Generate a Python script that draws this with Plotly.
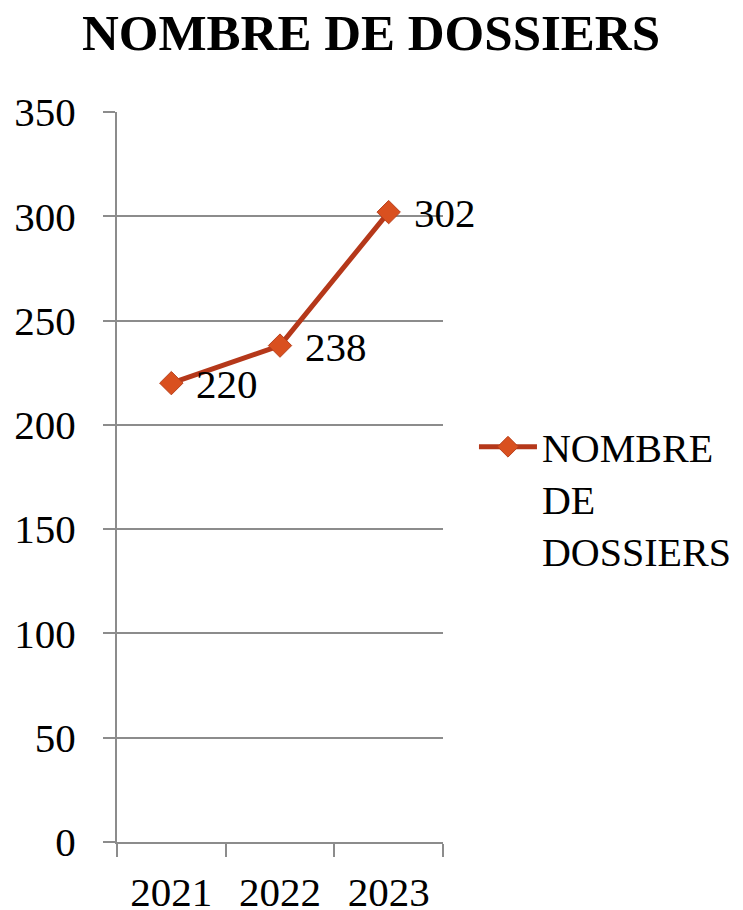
import plotly.graph_objects as go

years = ["2021", "2022", "2023"]
dossiers = [220, 238, 302]
y_ticks = [0, 50, 100, 150, 200, 250, 300, 350]

font_family = "Liberation Serif, Times New Roman, serif"
grid_col = "#8c8c8c"

fig = go.Figure()
fig.add_trace(go.Scatter(
    x=years, y=dossiers,
    mode="lines+markers",
    name="NOMBRE<br>DE<br>DOSSIERS",
    line=dict(color="#B5381A", width=5),
    marker=dict(symbol="diamond", size=18, color="#D9501F",
                line=dict(color="#B8401C", width=1)),
    cliponaxis=False,
))

for i, yv in enumerate(dossiers):
    fig.add_annotation(x=i, y=yv, xref="x", yref="y", text=str(yv), showarrow=False,
                       xanchor="left", yanchor="middle", xshift=23, yshift=-1,
                       font=dict(family=font_family, size=41, color="black"))

fig.update_layout(
    width=770, height=902,
    margin=dict(l=109, r=335, t=104, b=68, autoexpand=False),
    paper_bgcolor="white", plot_bgcolor="white",
    title=dict(text="<b>NOMBRE DE DOSSIERS</b>", x=363 / 770, xanchor="center",
               y=1 - 24 / 902, yanchor="middle",
               font=dict(family=font_family, size=51, color="black")),
    font=dict(family=font_family, size=41, color="black"),
    showlegend=True,
    legend=dict(x=1.095, xanchor="left", y=0.586, yanchor="top",
                valign="top", font=dict(family=font_family, size=40, color="black"),
                itemwidth=58, bgcolor="rgba(0,0,0,0)"),
    xaxis=dict(type="category", range=[-0.5, 2.5], showgrid=False,
               automargin=False,
               showline=True, linecolor=grid_col, linewidth=2,
               ticks="outside", tickson="boundaries", ticklen=13,
               tickcolor=grid_col, tickwidth=2, ticklabelstandoff=13,
               tickfont=dict(family=font_family, size=41, color="black")),
    yaxis=dict(range=[0, 350], tickvals=y_ticks, showgrid=True,
               automargin=False,
               gridcolor=grid_col, gridwidth=1.5, zeroline=False,
               showline=True, linecolor=grid_col, linewidth=2,
               ticks="outside", ticklen=12, tickcolor=grid_col, tickwidth=1.5,
               ticklabelstandoff=19,
               tickfont=dict(family=font_family, size=41, color="black")),
)

fig.write_html("out.html")
